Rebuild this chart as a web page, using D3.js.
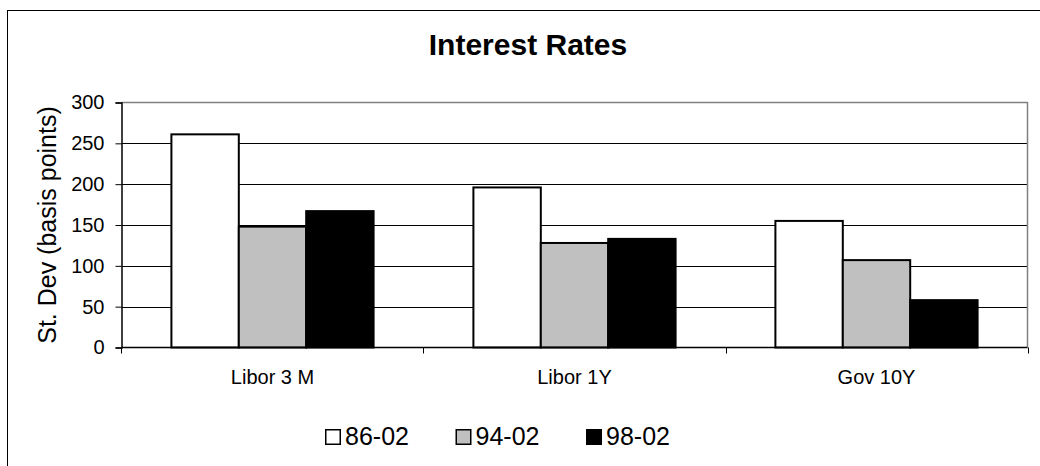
<!DOCTYPE html>
<html>
<head>
<meta charset="utf-8">
<script src="https://cdn.jsdelivr.net/npm/d3@7"></script>
<style>
  html, body { margin: 0; padding: 0; background: #fff; }
  svg { display: block; font-family: "Liberation Sans", Arial, sans-serif; }
</style>
</head>
<body>
<svg id="chart" width="1040" height="466"></svg>
<script>
// Standard deviation of interest rate changes, in basis points
const categories = ["Libor 3 M", "Libor 1Y", "Gov 10Y"];
const seriesNames = ["86-02", "94-02", "98-02"];
const values8602 = [261, 196, 155];
const values9402 = [148, 128, 107];
const values9802 = [167, 133, 58];
const yTicks = [0, 50, 100, 150, 200, 250, 300];

const seriesValues = [values8602, values9402, values9802];
const fills = ["#ffffff", "#c0c0c0", "#000000"];

const svg = d3.select("#chart");

// chart area frame
svg.append("rect")
  .attr("x", 7.5).attr("y", 10.5)
  .attr("width", 1060).attr("height", 480)
  .attr("fill", "#fff").attr("stroke", "#000").attr("stroke-width", 1);

const plot = { left: 121.5, right: 1027.5, top: 102.5, bottom: 347.5 };

const x0 = d3.scaleBand()
  .domain(categories)
  .range([plot.left, plot.right])
  .paddingInner(0.3305)
  .paddingOuter(0.3305 / 2);

const x1 = d3.scaleBand()
  .domain(seriesNames)
  .range([0, x0.bandwidth()])
  .padding(0);

const y = d3.scaleLinear().domain([0, 300]).range([plot.bottom, plot.top]);

// gridlines
svg.append("g")
  .selectAll("line")
  .data(yTicks.filter(t => t > 0 && t < 300))
  .join("line")
  .attr("x1", plot.left).attr("x2", plot.right)
  .attr("y1", d => Math.round(y(d)) + 0.5).attr("y2", d => Math.round(y(d)) + 0.5)
  .attr("stroke", "#000").attr("stroke-width", 1);

// plot border (top and right)
svg.append("path")
  .attr("d", `M${plot.left},${plot.top}H${plot.right}V${plot.bottom}`)
  .attr("fill", "none").attr("stroke", "#808080").attr("stroke-width", 1.5);

// bars
const groups = svg.append("g")
  .selectAll("g")
  .data(categories)
  .join("g")
  .attr("transform", d => `translate(${x0(d)},0)`);

groups.selectAll("rect")
  .data((c, ci) => seriesNames.map((s, si) => ({ s, si, v: seriesValues[si][ci] })))
  .join("rect")
  .attr("x", d => x1(d.s))
  .attr("y", d => y(d.v))
  .attr("width", x1.bandwidth())
  .attr("height", d => y(0) - y(d.v))
  .attr("fill", d => fills[d.si])
  .attr("stroke", "#000")
  .attr("stroke-width", 2);

// y axis
const yAxis = d3.axisLeft(y).tickValues(yTicks).tickSize(6).tickPadding(11);
const gy = svg.append("g")
  .attr("transform", `translate(${plot.left},0)`)
  .call(yAxis);
gy.select(".domain").attr("stroke", "#000").attr("stroke-width", 1.5);
gy.selectAll(".tick line").attr("stroke", "#000");
gy.selectAll(".tick text")
  .attr("font-size", 20).attr("fill", "#000")
  .attr("font-family", "Liberation Sans, Arial, sans-serif");

// x axis: ticks sit on category boundaries
const gx = svg.append("g")
  .attr("transform", `translate(0,${plot.bottom})`);
gx.append("line")
  .attr("x1", plot.left).attr("x2", plot.right)
  .attr("stroke", "#000").attr("stroke-width", 1.5);
const boundaries = categories.map(c => x0(c) - x0.step() * x0.paddingInner() / 2 - (c === categories[0] ? x0.step() * (x0.paddingOuter() - x0.paddingInner() / 2) : 0));
boundaries.push(plot.right);
gx.selectAll(".bt")
  .data(boundaries)
  .join("line")
  .attr("class", "bt")
  .attr("x1", d => Math.round(d) + 0.5).attr("x2", d => Math.round(d) + 0.5)
  .attr("y1", 0).attr("y2", 6)
  .attr("stroke", "#000").attr("stroke-width", 1);
gx.selectAll(".cl")
  .data(categories)
  .join("text")
  .attr("class", "cl")
  .attr("x", d => x0(d) + x0.bandwidth() / 2)
  .attr("y", 36)
  .attr("text-anchor", "middle")
  .attr("font-size", 20)
  .attr("fill", "#000")
  .text(d => d);

// y axis title
svg.append("text")
  .attr("transform", `translate(56,${(plot.top + plot.bottom) / 2}) rotate(-90)`)
  .attr("text-anchor", "middle")
  .attr("font-size", 25)
  .attr("fill", "#000")
  .text("St. Dev (basis points)");

// chart title
svg.append("text")
  .attr("x", 528).attr("y", 55)
  .attr("text-anchor", "middle")
  .attr("font-size", 30)
  .attr("font-weight", "bold")
  .attr("fill", "#000")
  .text("Interest Rates");

// legend
const legend = svg.append("g")
  .selectAll("g")
  .data(seriesNames)
  .join("g")
  .attr("transform", (d, i) => `translate(${325 + i * 130.5},0)`);
legend.append("rect")
  .attr("x", 0.75).attr("y", 429.75)
  .attr("width", 14.5).attr("height", 14.5)
  .attr("fill", (d, i) => fills[i])
  .attr("stroke", "#000").attr("stroke-width", 1.5);
legend.append("text")
  .attr("x", 20).attr("y", 445)
  .attr("font-size", 25)
  .attr("fill", "#000")
  .text(d => d);
</script>
</body>
</html>
